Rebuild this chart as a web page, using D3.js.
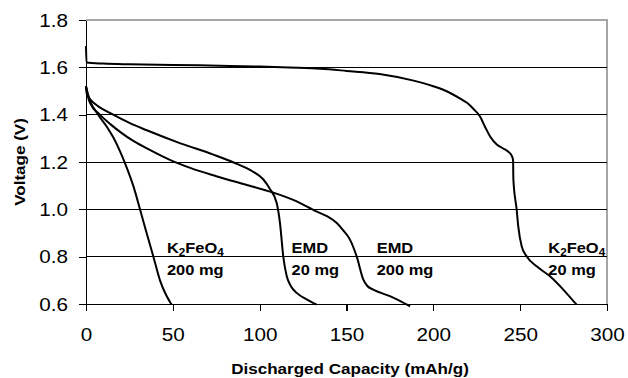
<!DOCTYPE html>
<html lang="en">
<head>
<meta charset="UTF-8">
<title>Discharge curves</title>
<style>
  body { margin: 0; background: #fff; }
  svg { display: block; font-family: Arial, "Liberation Sans", sans-serif; }
</style>
</head>
<body>
<div id="chart"></div>
<script src="https://d3js.org/d3.v7.min.js"></script>
<script>
// ---- data: [discharged capacity (mAh/g), voltage (V)] ----
const k2feo4_200mg = [
  [0, 1.52], [1, 1.49], [2.3, 1.46], [7, 1.40], [11.9, 1.35], [16, 1.30],
  [19.6, 1.245], [23, 1.185], [27.2, 1.10], [31.1, 1.0], [34.9, 0.90],
  [38.8, 0.80], [42.6, 0.70], [46, 0.64], [49.3, 0.597]
];
const emd_20mg = [
  [0, 1.52], [0.4, 1.49], [3, 1.46], [6.2, 1.44], [15.7, 1.40], [25, 1.365],
  [35, 1.334], [54, 1.28], [73, 1.232], [85, 1.198], [96, 1.16], [102, 1.127],
  [106, 1.085], [109.8, 1.027], [111.7, 0.942], [113.6, 0.80], [115.6, 0.717],
  [118, 0.675], [121.3, 0.647], [127, 0.62], [132.8, 0.597]
];
const emd_200mg = [
  [0, 1.52], [1, 1.48], [2.3, 1.45], [8, 1.40], [14, 1.36], [20, 1.325],
  [27, 1.29], [37, 1.25], [48, 1.21], [60, 1.175], [75, 1.14], [90, 1.108],
  [108, 1.07], [120, 1.038], [133, 0.99], [139, 0.97], [144.4, 0.942],
  [148, 0.912], [152, 0.872], [155.9, 0.80], [159.7, 0.703], [162, 0.676],
  [165.4, 0.661], [175, 0.633], [181, 0.612], [186.6, 0.59]
];
const k2feo4_20mg = [
  [0, 1.69], [0.3, 1.62], [10, 1.616], [25, 1.613], [50, 1.61], [83, 1.606],
  [100, 1.603], [117, 1.599], [135, 1.594], [150, 1.585], [169, 1.572],
  [188, 1.545], [200, 1.52], [208, 1.498], [215, 1.47], [219.4, 1.45],
  [223, 1.425], [226.9, 1.392], [230, 1.345], [232.7, 1.308], [236.7, 1.273],
  [240, 1.258], [243, 1.244], [245, 1.228], [245.9, 1.209], [246.1, 1.125],
  [248, 0.998], [248.9, 0.928], [250.9, 0.843], [253.8, 0.801], [259.5, 0.759],
  [267.2, 0.717], [274.8, 0.661], [282.5, 0.597]
];
const xTicks = [0, 50, 100, 150, 200, 250, 300];
const yTicks = [0.6, 0.8, 1.0, 1.2, 1.4, 1.6, 1.8];
const gridValues = [0.8, 1.0, 1.2, 1.4, 1.6];
const labelAt = [46.6, 118.4, 167.4, 266.2];       // capacity where each label starts
const labelMass = ["200 mg", "20 mg", "200 mg", "20 mg"];
const labelIsFerrate = [true, false, false, true];

// ---- layout ----
const W = 628, H = 378;
const margin = {left: 86, right: 607, top: 20, bottom: 304};

const svg = d3.select("#chart").append("svg")
  .attr("width", W).attr("height", H);

const x = d3.scaleLinear().domain([0, 300]).range([margin.left, margin.right]);
const y = d3.scaleLinear().domain([0.6, 1.8]).range([margin.bottom, margin.top]);

// plot frame (grey top/right) and black gridlines
svg.append("path")
  .attr("d", `M${margin.left},${margin.top}H${margin.right}V${margin.bottom}`)
  .attr("fill", "none").attr("stroke", "#a6a6a6").attr("stroke-width", 1.5)
  .attr("shape-rendering", "crispEdges");

svg.append("g").selectAll("line").data(gridValues).join("line")
  .attr("x1", margin.left).attr("x2", margin.right)
  .attr("y1", d => y(d)).attr("y2", d => y(d))
  .attr("stroke", "#000").attr("stroke-width", 1)
  .attr("shape-rendering", "crispEdges");

// axes
const tickScale = 1.15;
const xAxis = svg.append("g")
  .attr("transform", `translate(0,${margin.bottom})`)
  .call(d3.axisBottom(x).tickValues(xTicks).tickSize(7).tickSizeOuter(0));
const yAxis = svg.append("g")
  .attr("transform", `translate(${margin.left},0)`)
  .call(d3.axisLeft(y).tickValues(yTicks).tickSize(7).tickSizeOuter(0)
    .tickFormat(d3.format(".1f")));

[xAxis, yAxis].forEach(g => {
  g.selectAll("path, line").attr("stroke", "#000").attr("stroke-width", 1.3)
    .attr("shape-rendering", "crispEdges");
  g.selectAll("text").attr("fill", "#000").style("font-size", "18px")
    .attr("font-family", "Arial, 'Liberation Sans', sans-serif");
});
xAxis.selectAll("text").attr("y", 37.5).attr("dy", 0)
  .attr("transform", `scale(${tickScale},1)`);
yAxis.selectAll("text").attr("x", -18 / tickScale).attr("dy", "0.35em")
  .attr("transform", `scale(${tickScale},1)`);

// curves
const line = d3.line()
  .x(d => x(d[0]))
  .y(d => y(d[1]))
  .curve(d3.curveMonotoneX);

svg.append("g").selectAll("path")
  .data([k2feo4_200mg, emd_20mg, emd_200mg, k2feo4_20mg])
  .join("path")
  .attr("d", line)
  .attr("fill", "none")
  .attr("stroke", "#000")
  .attr("stroke-width", 2)
  .attr("stroke-linejoin", "round");

// in-plot labels
const lab = svg.append("g").selectAll("g").data(labelAt).join("g")
  .attr("transform", d => `translate(${x(d)},0) scale(1.06,1)`)
  .style("font-size", "15.5px").style("font-weight", "bold");

lab.each(function (d, i) {
  const g = d3.select(this);
  const t1 = g.append("text").attr("y", y(0.8) - 3.5);
  if (labelIsFerrate[i]) {
    t1.append("tspan").text("K");
    t1.append("tspan").text("2").style("font-size", "11px").attr("dy", 3);
    t1.append("tspan").text("FeO").attr("dy", -3);
    t1.append("tspan").text("4").style("font-size", "11px").attr("dy", 3);
  } else {
    t1.text("EMD");
  }
  g.append("text").attr("y", y(0.8) + 18.5).text(labelMass[i]);
});

// axis titles
svg.append("text")
  .attr("transform", `translate(350,374) scale(1.1,1)`)
  .attr("text-anchor", "middle")
  .style("font-size", "15.5px").style("font-weight", "bold")
  .text("Discharged Capacity (mAh/g)");

svg.append("text")
  .attr("transform", `translate(24.5,162) rotate(-90) scale(1.1,1)`)
  .attr("text-anchor", "middle")
  .style("font-size", "15.5px").style("font-weight", "bold")
  .text("Voltage (V)");
</script>
</body>
</html>
